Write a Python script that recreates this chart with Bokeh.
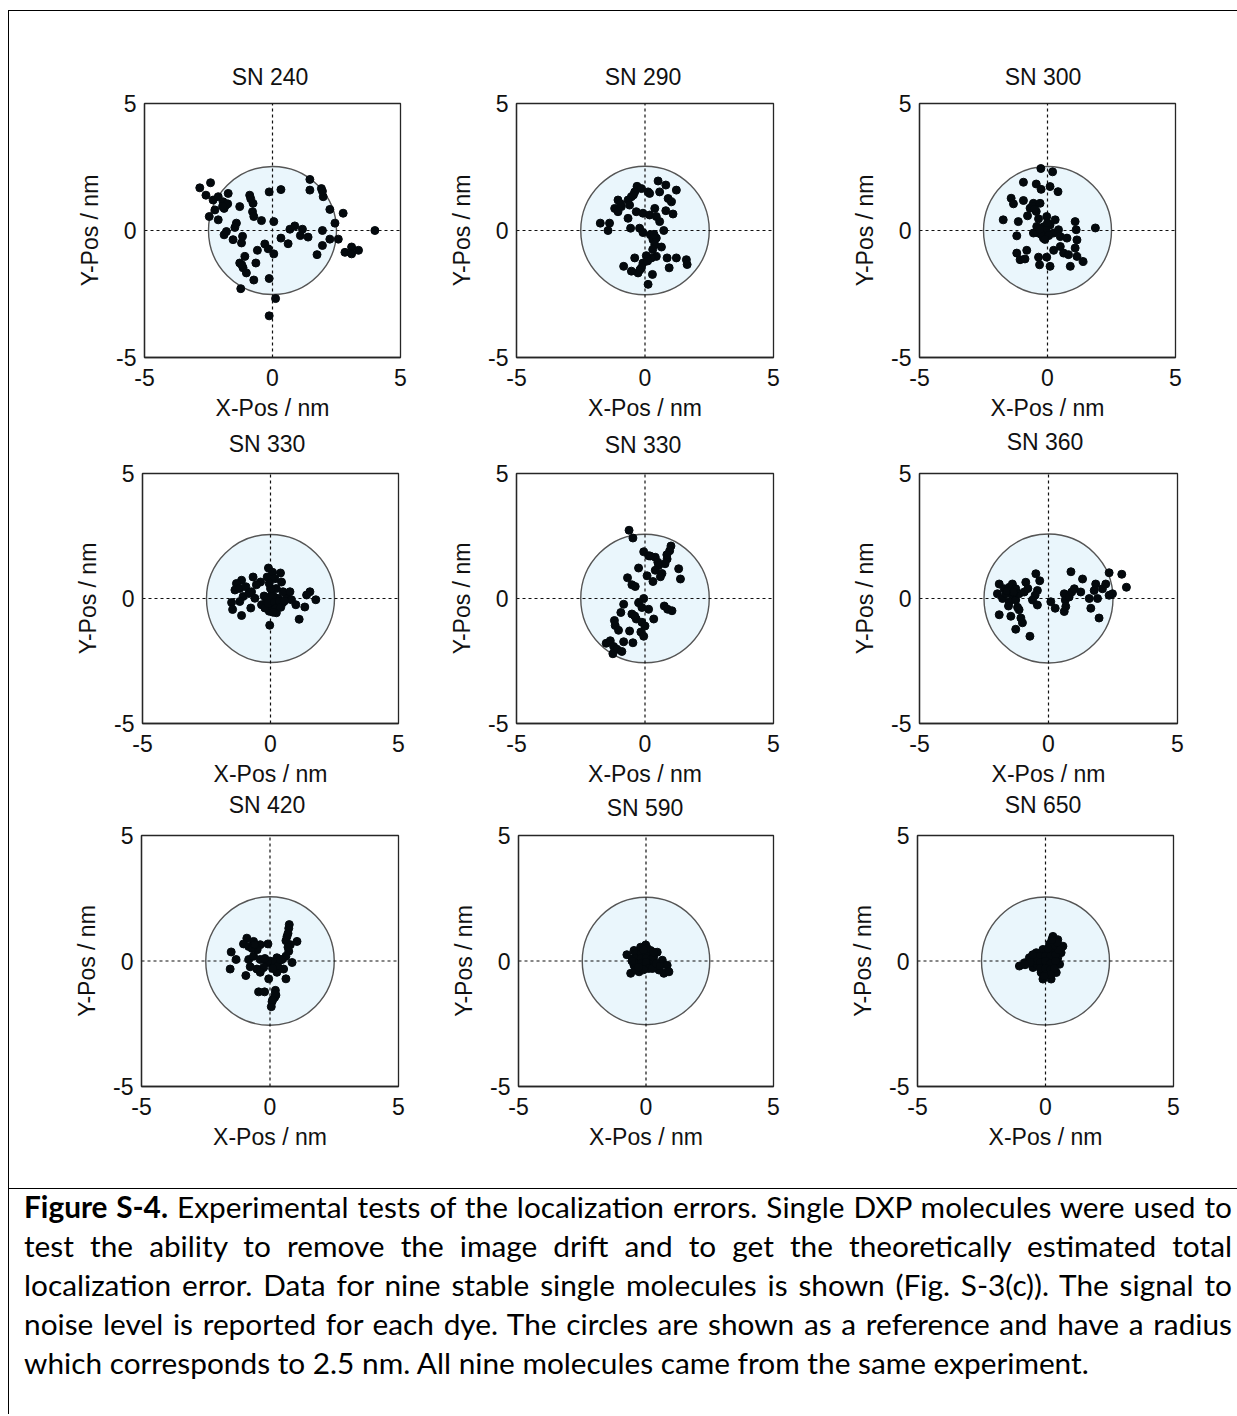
from bokeh.plotting import figure
from bokeh.models import Range1d, FixedTicker, Div, PrintfTickFormatter
from bokeh.layouts import row, column
from bokeh.embed import file_html
from bokeh.resources import INLINE

# ---------------- data ----------------
titles = ["SN 240", "SN 290", "SN 300", "SN 330", "SN 330", "SN 360", "SN 420", "SN 590", "SN 650"]
tick_values = [-5, 0, 5]
x_label = "X-Pos / nm"
y_label = "Y-Pos / nm"
circle_radius = 2.5

p1_x = [-2.84, -2.42, -2.60, -2.32, -2.12, -2.47, -2.25, -2.12, -1.93, -1.82, -1.73, -1.89, -1.89, -1.80, -1.54,
        -1.41, -1.47, -1.28, -1.17, -1.21, -1.08, -1.28, -1.15, -1.02, -1.24, -0.89, -0.76, -0.78, -0.73, -0.43,
        -0.65, -0.73, -0.59, -0.30, -0.17, -0.13, 0.05, -0.13, 0.05, 0.33, 0.33, 0.61, 0.12, -0.13, 0.68, 0.87,
        1.17, 1.09, 1.39, 1.46, 1.46, 1.91, 1.98, 2.24, 2.44, 1.95, 2.24, 2.57, 1.95, 1.74, 2.76, 2.83, 3.09,
        3.09, 3.36, 4.00, -1.75, -1.95, -0.85, -1.20, 1.95]
p1_y = [1.68, 1.88, 1.39, 1.20, 1.33, 0.55, 0.81, 0.42, 1.13, 1.00, 1.46, 0.87, -0.17, -0.04, -0.36,
        0.29, 0.12, 0.94, -0.23, -0.49, -1.02, -1.28, -1.47, -1.67, -2.29, 1.39, 1.07, 0.74, 0.55, 0.39,
        -1.28, -1.95, -0.78, -0.53, -0.72, -1.89, -0.92, 1.52, 0.35, 1.61, -0.30, -0.52, -2.68, -3.36, 0.05, 0.18,
        0.05, -0.20, -0.26, 2.01, 1.59, 1.65, 1.33, 0.83, 0.29, 0.00, -0.34, -0.34, -0.59, -0.95, 0.68, -0.86, -0.65,
        -0.92, -0.78, 0.00, 1.05, 0.95, 1.25, -1.35, 1.55]

p2_x = [0.51, 0.81, 1.22, 0.57, 0.90, 1.03, -0.31, -0.40, -0.14, 0.12, 0.18, -0.53, -0.66, -1.05, -1.18, -1.05,
        -0.92, -0.60, -0.34, -0.08, 0.18, -0.66, 0.38, 0.44, 0.81, 1.09, 0.57, -1.74, -1.38, -1.44, -0.56, -0.21,
        -0.08, 0.21, 0.73, 0.31, 0.44, 0.38, 0.64, 0.44, 0.25, 0.05, -0.40, -0.08, -0.14, -0.27, -0.53, -0.83,
        0.29, 0.12, 0.86, 1.22, 1.61, 1.64, 0.94, -0.95, -0.45, 0.30, 0.35, 0.10, -0.20]
p2_y = [1.95, 1.79, 1.59, 1.52, 1.26, 1.13, 1.74, 1.52, 1.65, 1.52, 1.46, 1.33, 1.20, 1.20, 0.87, 0.74,
        0.94, 1.00, 0.74, 0.68, 0.61, 0.48, 0.87, 0.55, 0.78, 0.65, 0.35, 0.29, 0.29, 0.00, 0.09, 0.09,
        -0.08, -0.17, 0.00, -0.36, -0.30, -0.56, -0.65, -1.02, -1.08, -0.99, -1.08, -1.28, -1.47, -1.67, -1.60, -1.41,
        -1.73, -2.12, -1.08, -1.08, -1.15, -1.34, -1.47, 1.05, 1.40, -0.75, -0.15, -1.20, -1.55]

p3_x = [-0.26, 0.20, -0.94, -0.44, -0.25, 0.10, 0.41, -1.42, -1.33, -0.94, -0.55, -0.29, -0.68, -0.44, -0.78, -0.35,
        -1.73, -1.14, -0.03, 0.30, 0.10, -0.22, -0.35, -0.55, -0.16, 0.24, 0.43, 0.50, 0.76, 1.15, 1.08, 1.08,
        1.12, 1.87, -1.20, -0.81, -1.20, -1.07, -0.88, -0.35, -0.31, -0.03, 0.10, 0.24, 0.63, 0.82, 1.15, 0.89,
        1.39, 0.50, -0.42, -0.09, -0.15, -0.05, -0.25, 0.00, -0.30, 0.05, -0.10, -0.60, -0.50]
p3_y = [2.44, 2.31, 1.90, 1.83, 1.62, 1.73, 1.53, 1.27, 1.05, 1.18, 1.07, 1.07, 0.88, 0.75, 0.58, 0.46,
        0.42, 0.35, 0.55, 0.42, 0.22, 0.03, -0.10, -0.10, -0.30, -0.10, 0.03, -0.24, -0.30, -0.37, -0.69, 0.35,
        0.03, 0.10, -0.21, -0.78, -0.89, -1.15, -1.12, -1.05, -1.35, -1.05, -1.41, -0.78, -0.89, -0.95, -1.02, -1.41,
        -1.22, -0.63, 0.16, -0.10, 0.15, 0.00, -0.15, 0.30, 0.05, -0.20, -0.35, 0.95, 0.85]

p4_x = [-0.08, 0.08, 0.39, 0.43, 0.17, -0.13, -0.39, -0.68, -1.13, -1.33, -1.39, -1.20, -0.96, -0.74, -0.61, -1.07,
        -1.52, -1.20, -1.48, -1.13, -0.77, -0.35, -0.16, 0.04, 0.10, -0.05, 0.23, -0.03, 0.47, 0.63, 0.82, 0.99,
        0.30, 0.49, 0.76, 1.34, 1.54, 1.77, 1.41, 1.12, -0.22, 0.23, 0.00, 0.10, -0.10, 0.15, 0.35, 0.00, -0.05,
        0.20, 0.40, 0.55, -0.25, 0.10, -0.55, -0.85]
p4_y = [1.22, 1.05, 1.02, 0.66, 0.79, 0.86, 0.66, 0.86, 0.73, 0.60, 0.34, 0.40, 0.47, 0.27, 0.01, 0.08,
        -0.16, -0.12, -0.44, -0.68, -0.38, -0.25, -0.12, 0.14, -0.31, -0.51, -0.57, -1.07, -0.18, 0.08, -0.05, -0.25,
        0.01, 0.27, 0.27, -0.34, 0.27, -0.05, 0.14, -0.83, -0.38, 0.40, 0.00, 0.10, -0.20, -0.15, -0.10, 0.40, 0.60,
        -0.40, -0.35, -0.10, 0.10, -0.55, 0.55, 0.20]

p5_x = [-0.62, -0.47, 1.01, 0.96, -0.05, 0.14, 0.40, 0.86, 0.78, 0.53, 0.40, 1.31, 0.66, 0.60, 0.31, 1.38,
        -0.25, 0.08, -0.68, -0.51, -0.38, -0.05, -0.25, -0.12, 0.14, -0.83, -0.94, -0.51, -0.34, -0.12, -1.19, -1.16,
        -1.03, -0.60, -0.16, -0.05, 0.34, 0.75, 0.88, 1.05, -0.83, -0.47, -1.51, -1.35, -1.22, -1.09, -1.25, -0.90,
        0.85, 0.50, 0.20, -0.40, 0.00]
p5_y = [2.73, 2.42, 2.10, 1.91, 1.87, 1.71, 1.65, 1.58, 1.39, 1.32, 1.13, 1.19, 1.00, 0.87, 0.68, 0.78,
        1.22, 0.91, 0.83, 0.55, 0.48, 0.00, -0.17, -0.36, -0.43, -0.23, -0.56, -0.62, -0.82, -0.95, -0.88, -1.08,
        -1.27, -1.30, -1.34, -1.51, -0.82, -0.30, -0.43, -0.49, -1.73, -1.77, -1.79, -1.69, -1.92, -2.03, -2.21, -2.12,
        1.75, 1.45, 1.70, -0.70, -1.10]

p6_x = [-1.91, -1.98, -1.72, -1.78, -1.65, -1.52, -1.40, -1.27, -1.40, -1.52, -1.27, -1.14, -0.88, -0.94, -0.49, -0.34,
        -0.43, -0.52, -0.62, -0.43, -1.14, -1.91, -1.46, -1.07, -1.01, -1.27, -0.72, 0.09, 0.26, 0.61, 0.65, 0.61,
        0.80, 0.90, 1.00, 0.87, 1.32, 1.25, 1.58, 1.64, 1.90, 1.83, 1.77, 1.96, 2.09, 2.35, 2.35, 2.48, 2.84,
        3.02, 2.22, 0.67, -1.60, -1.35, -1.55, -1.20, -0.80]
p6_y = [0.58, 0.19, 0.39, 0.00, 0.19, 0.45, 0.58, 0.39, 0.13, -0.13, -0.06, 0.19, 0.65, 0.26, 0.99, 0.71,
        0.32, 0.13, -0.06, -0.26, -0.45, -0.65, -0.71, -0.78, -0.97, -1.23, -1.51, -0.13, -0.39, 0.19, -0.06, -0.52,
        0.06, 0.26, 0.39, 1.07, 0.78, 0.26, 0.00, -0.39, 0.00, 0.58, 0.32, -0.78, 0.39, 1.03, 0.13, 0.19, 0.97,
        0.45, 0.58, -0.32, 0.30, 0.25, -0.30, -0.35, 0.40]

p7_x = [0.75, 0.73, 0.66, 0.62, 1.05, 0.79, 0.73, 0.62, 0.86, 0.47, 0.27, -0.08, -0.38, -0.64, -0.90, -1.03,
        -0.83, -1.51, -1.32, -1.55, -0.83, -0.64, -0.38, -0.12, 0.08, -0.25, -0.51, -0.77, -0.94, -0.38, -0.05, 0.27,
        0.62, 0.53, -0.44, -0.21, 0.21, 0.18, 0.08, 0.05, 0.23, 0.00, -0.20, 0.20, 0.30, -0.50, -0.70, -0.60,
        0.10, 0.40, 0.70, 0.70, 0.20, 0.10]
p7_y = [1.45, 1.30, 0.97, 0.81, 0.78, 0.65, 0.39, 0.19, -0.06, 0.06, 0.13, 0.68, 0.65, 0.78, 0.91, 0.68,
        0.58, 0.36, 0.06, -0.32, 0.06, 0.19, 0.06, -0.06, -0.13, -0.26, -0.32, -0.23, -0.58, -0.45, -0.71, -0.45,
        -0.71, -0.32, -1.23, -1.23, -1.17, -1.45, -1.62, -1.82, -1.36, 0.00, 0.10, -0.05, -0.20, 0.45, 0.50, 0.65,
        -0.30, 0.05, 0.55, 1.10, -1.30, -1.55]

p8_x = [-0.01, -0.21, -0.47, -0.75, -0.53, -0.34, -0.08, 0.18, 0.44, 0.12, -0.21, -0.47, -0.60, -0.40, -0.01, 0.18,
        0.31, 0.64, 0.83, 0.70, 0.90, 0.51, 0.38, -0.27, -0.14, -0.40, -0.20, 0.00, 0.20, -0.40, -0.20, 0.00,
        0.20, 0.30, -0.40, -0.20, 0.00, 0.10, -0.10, 0.25, 0.40, 0.55, -0.55, -0.30, 0.05, -0.10, 0.30]
p8_y = [0.64, 0.55, 0.42, 0.25, 0.09, 0.22, 0.35, 0.42, 0.35, 0.16, -0.04, -0.17, -0.49, -0.36, -0.23, -0.17,
        -0.04, 0.03, -0.17, -0.49, -0.43, -0.36, -0.23, -0.43, 0.16, 0.30, 0.30, 0.30, 0.25, 0.10, 0.10, 0.10,
        0.05, 0.15, -0.10, -0.10, -0.05, -0.30, -0.35, -0.30, -0.10, -0.20, 0.00, -0.25, 0.50, 0.45, 0.35]

p9_x = [0.29, 0.48, 0.68, 0.61, 0.16, -0.10, -0.36, -0.63, -1.02, -0.82, -0.49, -0.23, 0.03, 0.29, 0.55, 0.42,
        0.22, -0.10, -0.17, 0.09, -0.36, 0.35, 0.03, 0.48, -0.40, -0.20, 0.00, 0.20, 0.40, -0.40, -0.20, 0.00,
        0.20, 0.40, -0.20, 0.00, 0.20, 0.35, 0.00, 0.20, -0.05, 0.50, 0.30, 0.45, 0.25, -0.60, -0.80, -0.50, 0.10]
p9_y = [0.98, 0.85, 0.59, 0.33, 0.68, 0.46, 0.33, 0.13, -0.20, -0.07, -0.26, 0.00, 0.13, 0.00, -0.13, -0.46,
        -0.72, -0.72, -0.46, -0.26, -0.13, 0.39, 0.39, 0.13, 0.20, 0.20, 0.20, 0.20, 0.25, 0.00, -0.05, 0.00,
        -0.10, 0.00, -0.30, -0.30, -0.35, -0.30, -0.55, -0.55, -0.60, 0.45, 0.60, 0.75, 0.85, -0.05, -0.15, 0.25, 0.50]

xs_all = [p1_x, p2_x, p3_x, p4_x, p5_x, p6_x, p7_x, p8_x, p9_x]
ys_all = [p1_y, p2_y, p3_y, p4_y, p5_y, p6_y, p7_y, p8_y, p9_y]

caption_bold = "Figure S-4."
caption_lines = [
    " Experimental tests of the localization errors. Single DXP molecules were used to",
    "test the ability to remove the image drift and to get the theoretically estimated total",
    "localization error. Data for nine stable single molecules is shown (Fig. S-3(c)). The signal to",
    "noise level is reported for each dye. The circles are shown as a reference and have a radius",
    "which corresponds to 2.5 nm. All nine molecules came from the same experiment.",
]

# ---------------- geometry ----------------
cell_w = [410, 410, 408]
title_row_h = [79, 35, 31]
fig_row_h = [333, 331, 368]
# (min_border left, right, top, bottom) per panel
borders = [
    (135, 19, 13, 65), (97, 56, 13, 65), (90, 62, 13, 65),
    (133, 21, 13, 64), (97, 56, 15, 62), (90, 60, 13, 62),
    (132, 21, 13, 99), (99, 56, 15, 98), (88, 64, 12, 102),
]
# title centre inside its cell (x, y) in px
title_pos = [(261, 66), (224, 66), (214, 66),
             (258, 21), (224, 22), (216, 19),
             (258, 16), (226, 19), (214, 16)]

FONT = "Liberation Sans"
FS = "23px"
FRAME = "#262626"
TXT = "#111111"


def make_panel(i):
    ml, mr, mt, mb = borders[i]
    w = cell_w[i % 3]
    h = fig_row_h[i // 3]
    lo, hi = tick_values[0], tick_values[-1]
    p = figure(width=w, height=h, output_backend="svg", toolbar_location=None,
               x_range=Range1d(lo, hi), y_range=Range1d(lo, hi),
               min_border_left=ml, min_border_right=mr, min_border_top=mt, min_border_bottom=mb)
    p.xgrid.visible = False
    p.ygrid.visible = False
    p.outline_line_color = FRAME
    p.outline_line_width = 1.3
    p.outline_line_alpha = 1.0
    p.background_fill_color = "white"
    p.border_fill_color = None
    for ax in (p.xaxis[0], p.yaxis[0]):
        ax.ticker = FixedTicker(ticks=tick_values)
        ax.formatter = PrintfTickFormatter(format="%d")
        ax.major_tick_in = 0
        ax.major_tick_out = 0
        ax.minor_tick_in = 0
        ax.minor_tick_out = 0
        ax.axis_line_color = FRAME
        ax.axis_line_width = 1.3
        ax.major_label_text_font = FONT
        ax.major_label_text_font_size = FS
        ax.major_label_text_color = TXT
        ax.axis_label_text_font = FONT
        ax.axis_label_text_font_size = FS
        ax.axis_label_text_font_style = "normal"
        ax.axis_label_text_color = TXT
    p.xaxis.axis_label = x_label
    p.yaxis.axis_label = y_label
    p.xaxis.major_label_standoff = 11
    p.xaxis.axis_label_standoff = 6
    p.yaxis.major_label_standoff = 8
    p.yaxis.axis_label_standoff = 10
    p.yaxis.major_label_orientation = "horizontal"

    # reference circle
    p.circle(x=[0], y=[0], radius=circle_radius, fill_color="#EAF6FC",
             line_color="#555555", line_width=1.4)
    # dashed cross-hair through the origin
    p.segment(x0=[0, lo], y0=[lo, 0], x1=[0, hi], y1=[hi, 0],
              line_color="#111111", line_width=1.2, line_dash="3 3")
    # localisations
    p.scatter(x=xs_all[i], y=ys_all[i], size=8, marker="circle",
              fill_color="#04090d", line_color="#04090d")
    return p


def make_title(i):
    w = cell_w[i % 3]
    h = title_row_h[i // 3]
    tx, ty = title_pos[i]
    html = (f'<div style="position:relative; width:{w}px; height:{h}px; overflow:visible;">'
            f'<span style="position:absolute; left:{tx}px; top:{ty}px; transform:translate(-50%,-50%); '
            f'font-family:\'{FONT}\'; font-size:{FS}; line-height:{FS}; color:{TXT}; white-space:nowrap;">'
            f'{titles[i]}</span></div>')
    return Div(text=html, width=w, height=h, margin=0)


panels = [make_panel(i) for i in range(9)]
heads = [make_title(i) for i in range(9)]
children = []
for r in range(3):
    children.append(row(heads[3 * r:3 * r + 3], spacing=0))
    children.append(row(panels[3 * r:3 * r + 3], spacing=0))

line_style = ("display:block; text-align: justify; text-align-last: justify; "
              "height:39px; overflow:hidden;")
last_style = "display:block; text-align: left; height:39px;"
html = ['<div style="font-family: Lato, sans-serif; font-size: 29.8px; line-height: 39px; color:#000; '
        'padding: 0px 5px 0px 15px; width:1228px; box-sizing:border-box; position:relative; top:-2px;">']
for k, t in enumerate(caption_lines):
    st = last_style if k == len(caption_lines) - 1 else line_style
    if k == 0:
        html.append(f'<div style="{st}"><b>{caption_bold}</b>{t}</div>')
    else:
        html.append(f'<div style="{st}">{t}</div>')
html.append('</div>')

caption = Div(text="".join(html), width=1228, height=226, margin=0,
              styles={"border-top": "1px solid #000"})

layout = column(children + [caption], spacing=0,
                styles={"border-top": "1px solid #000", "border-left": "1px solid #000",
                        "margin-top": "10px", "margin-left": "8px"})

open("out.html", "w").write(file_html(layout, INLINE))
